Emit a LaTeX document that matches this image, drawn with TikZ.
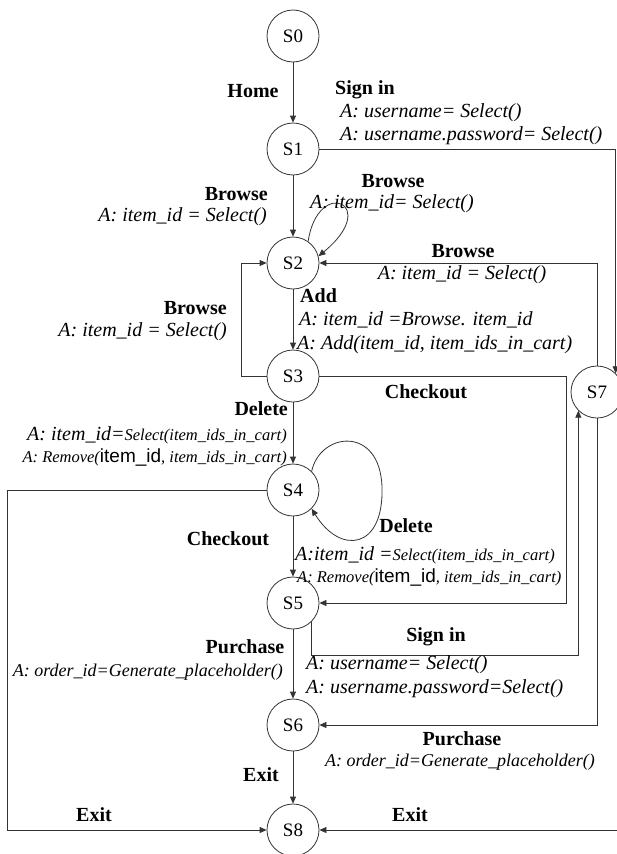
\documentclass[tikz,border=0pt]{standalone}
\usepackage{fontspec}
\setmainfont{Liberation Serif}
\setsansfont{Liberation Sans}
\usetikzlibrary{arrows.meta}

\newcommand{\smallit}[1]{{\fontsize{16.5}{19}\selectfont #1}}
\newcommand{\midit}[1]{{\fontsize{18}{20}\selectfont #1}}
\newcommand{\bigid}{{\fontsize{19}{20}\selectfont\sffamily\upshape item\_id}}

\begin{document}
\begin{tikzpicture}[x=1pt, y=-1pt,
        state/.style={
                circle,
                draw=black!80,
                line width=0.8pt,
                minimum size=52pt,
                inner sep=0pt,
                font=\fontsize{19}{22}\selectfont,
        },
        act/.style={inner sep=0pt, font=\fontsize{20}{22}\selectfont\bfseries},
        eff/.style={inner sep=0pt, font=\fontsize{20}{22}\selectfont\itshape},
        edge/.style={draw=black!80, line width=0.8pt, -{Triangle[length=7pt,width=6pt]}}]
            \useasboundingbox (0,0) rectangle (616,854);

            \node[state] (S0) at (293,36) {S0};
            \node[state] (S1) at (293,149) {S1};
            \node[state] (S2) at (293,263) {S2};
            \node[state] (S3) at (293,376) {S3};
            \node[state] (S4) at (293,490) {S4};
            \node[state] (S5) at (293,603) {S5};
            \node[state] (S6) at (293,725) {S6};
            \node[state] (S8) at (293,830) {S8};
            \node[state] (S7) at (597,392) {S7};

            \draw[edge] (S0) -- (S1);
            \draw[edge] (S1) -- (S2);
            \draw[edge] (S2) -- (S3);
            \draw[edge] (S3) -- (S4);
            \draw[edge] (S4) -- (S5);
            \draw[edge] (S5) -- (S6);
            \draw[edge] (S6) -- (S8);
            \draw[edge] (S2.55) .. controls (318,176) and (382,204) .. (S2.15);
            \draw[edge] (S4.45) .. controls (320,432) and (380,425) .. (382,487)
                .. controls (384,550) and (340,555) .. (S4.-45);
            \draw[edge] (S1.east) -| (S7.north east);
            \draw[edge] (S3.west) -- (241,376) |- (S2.west);
            \draw[edge] (S7.north) |- (S2.east);
            \draw[edge] (S3.east) -- (566,376) |- (S5.east);
            \draw[edge] (S5.south east) -- ++(0,34) -| (S7.south west);
            \draw[edge] (S7.south) |- (S6.east);
            \draw[edge] (S4.west) -- (7,490) |- (S8.west);
            \draw[edge] (S7.east) -- ++(6,0) |- (S8.east);

            \node[act] (lHome) at (253,91) {Home};
            \node[act, anchor=west] (lSignA) at (335,90) {Sign in};
            \node[eff, anchor=west] (eSignA1) at (340,113) {A: username= Select()};
            \node[eff, anchor=west] (eSignA2) at (340,136) {A: username.password= Select()};
            \node[act, anchor=east] (lBrowseA) at (268,194) {Browse};
            \node[eff, anchor=east] (eBrowseA) at (267,217) {A: item\_id = Select()};
            \node[act] (lBrowseB) at (393,181) {Browse};
            \node[eff, anchor=west] (eBrowseB) at (310,204) {A: item\_id= Select()};
            \node[act] (lBrowseC) at (463,251) {Browse};
            \node[eff] (eBrowseC) at (462,275) {A: item\_id = Select()};
            \node[act, anchor=east] (lBrowseD) at (227,308) {Browse};
            \node[eff, anchor=east] (eBrowseD) at (227,332) {A: item\_id = Select()};
            \node[act, anchor=west] (lAdd) at (300,296) {Add};
            \node[eff, anchor=west] (eAdd1) at (299,320) {A: item\_id =Browse. item\_id};
            \node[eff, anchor=west] (eAdd2) at (297,345) {A: Add(item\_id, item\_ids\_in\_cart)};
            \node[act] (lCheckA) at (426,392) {Checkout};
            \node[act, anchor=east] (lDeleteA) at (288,409) {Delete};
            \node[eff, anchor=east] (eDeleteA1) at (287,435) {A: item\_id=\smallit{Select(item\_ids\_in\_cart)}};
            \node[eff, anchor=east] (eDeleteA2) at (287,457) {\smallit{A: Remove(}\bigid\smallit{, item\_ids\_in\_cart)}};
            \node[act] (lDeleteB) at (406,526) {Delete};
            \node[act] (lCheckB) at (228,539) {Checkout};
            \node[eff, anchor=west] (eCheckB1) at (295,555) {A:item\_id =\smallit{Select(item\_ids\_in\_cart)}};
            \node[eff, anchor=west] (eCheckB2) at (297,577) {\smallit{A: Remove(}\bigid\smallit{, item\_ids\_in\_cart)}};
            \node[act] (lSignB) at (436,637) {Sign in};
            \node[eff, anchor=west] (eSignB1) at (306,665) {A: username= Select()};
            \node[eff, anchor=west] (eSignB2) at (306,689) {A: username.password=Select()};
            \node[act] (lPurchA) at (245,647) {Purchase};
            \node[eff, anchor=east] (ePurchA) at (283,672) {\midit{A: order\_id=Generate\_placeholder()}};
            \node[act] (lPurchB) at (462,739) {Purchase};
            \node[eff] (ePurchB) at (460,762) {\midit{A: order\_id=Generate\_placeholder()}};
            \node[act] (lExitA) at (261,775) {Exit};
            \node[act] (lExitB) at (94,815) {Exit};
            \node[act] (lExitC) at (410,815) {Exit};
        \end{tikzpicture}
\end{document}
